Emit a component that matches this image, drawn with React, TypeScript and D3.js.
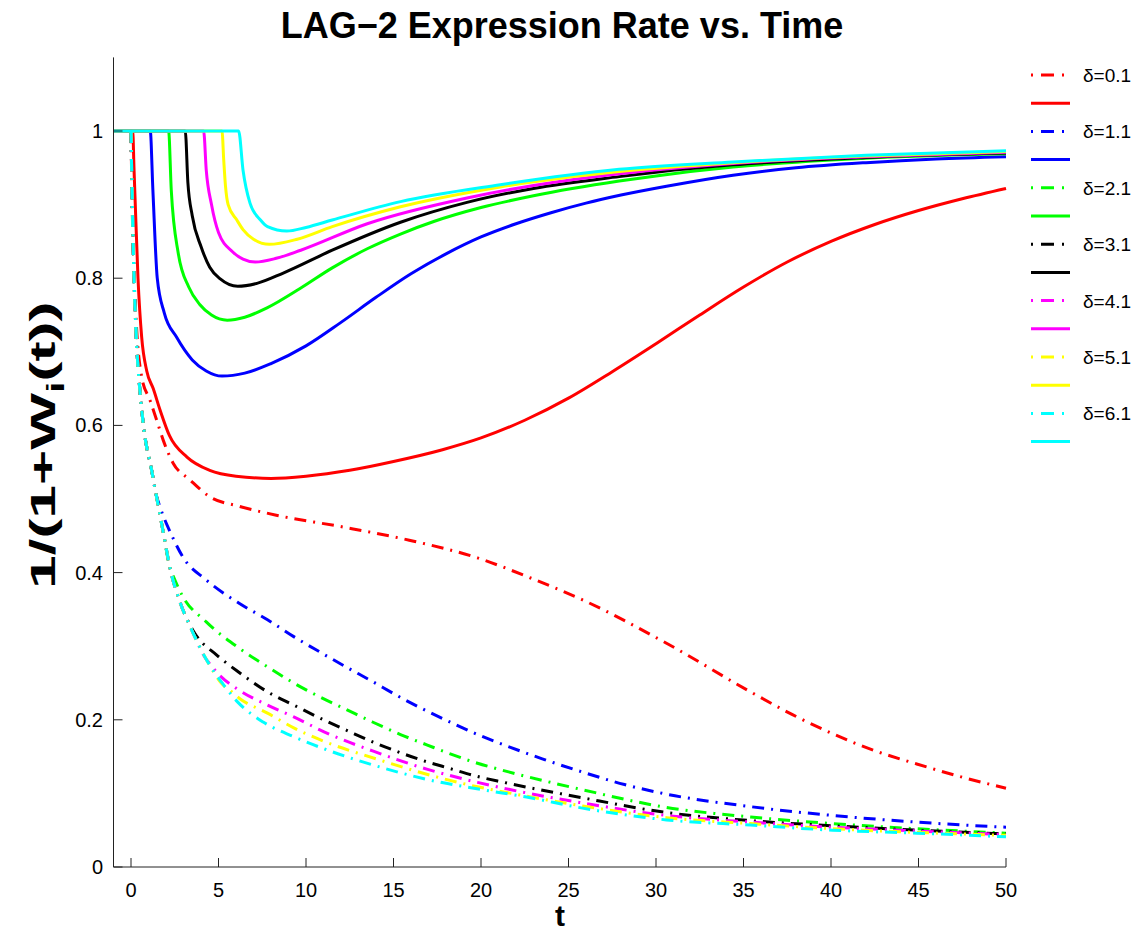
import React from "react";
import * as d3 from "d3";

const W = 1147;
const H = 934;

const xTicks = [0, 5, 10, 15, 20, 25, 30, 35, 40, 45, 50];
const yTicks = [0, 0.2, 0.4, 0.6, 0.8, 1];
const yTickLabels = ["0", "0.2", "0.4", "0.6", "0.8", "1"];
const deltaLabels = ["δ=0.1", "δ=1.1", "δ=2.1", "δ=3.1", "δ=4.1", "δ=5.1", "δ=6.1"];
const colors = ["#ff0000", "#0000ff", "#00ff00", "#000000", "#ff00ff", "#ffff00", "#00ffff"];

type P = [number, number];

// solid curves: 1/(1+W_i(t)) for each delta
const solid01: P[] = [[-1,1],[0.1,1],[0.17,0.95],[0.23,0.91],[0.4,0.8],[0.61,0.72],[0.9,0.674],[1.27,0.65],[1.66,0.621],[2.2,0.586],[3.2,0.557],[4.5,0.539],[6,0.531],[8,0.528],[10,0.531],[12.5,0.539],[15,0.551],[17.8,0.567],[20,0.583],[22.5,0.607],[25,0.637],[27.5,0.673],[30,0.711],[32.5,0.75],[35,0.788],[37.5,0.822],[40,0.85],[42.5,0.873],[45,0.892],[47.5,0.908],[50,0.922]];
const solid11: P[] = [[-1,1],[1.1,1],[1.25,0.92],[1.5,0.8],[1.9,0.753],[2.6,0.72],[3.5,0.689],[4.3,0.674],[5.2,0.667],[6.5,0.671],[8,0.684],[10,0.708],[12,0.74],[14,0.774],[16,0.806],[18,0.833],[20,0.856],[22,0.874],[24,0.889],[26,0.902],[28,0.913],[30.6,0.925],[34.4,0.94],[38,0.95],[42,0.957],[46,0.962],[50,0.965]];
const solid21: P[] = [[-1,1],[2.15,1],[2.3,0.92],[2.7,0.834],[3.3,0.788],[3.94,0.764],[4.6,0.75],[5.5,0.743],[6.5,0.747],[7.8,0.76],[9.66,0.786],[11.5,0.814],[13.5,0.84],[15.4,0.86],[17.3,0.877],[20,0.896],[23,0.912],[27.9,0.932],[30,0.939],[34.4,0.951],[42,0.963],[50,0.969]];
const solid31: P[] = [[-1,1],[3.1,1],[3.25,0.93],[3.5,0.885],[4.0,0.843],[4.5,0.815],[5.1,0.799],[6.1,0.789],[7.2,0.793],[8.7,0.807],[11.5,0.838],[15.4,0.876],[19.2,0.903],[23,0.922],[27.9,0.938],[30,0.944],[34.4,0.954],[42,0.964],[50,0.97]];
const solid41: P[] = [[-1,1],[4.15,1],[4.3,0.947],[4.6,0.9],[5.0,0.862],[5.8,0.836],[6.4,0.826],[7.1,0.822],[8.3,0.827],[9.7,0.838],[13.5,0.874],[19.2,0.909],[23,0.926],[27.9,0.942],[34.4,0.956],[42,0.965],[50,0.971]];
const solid51: P[] = [[-1,1],[5.2,1],[5.3,0.96],[5.4,0.925],[5.55,0.9],[6.05,0.879],[6.4,0.866],[7.0,0.853],[7.9,0.846],[9.5,0.853],[11.5,0.87],[15.4,0.897],[21.1,0.924],[27.9,0.945],[34.4,0.957],[42,0.966],[50,0.972]];
const solid61: P[] = [[-1,1],[6.15,1],[6.4,0.947],[6.8,0.902],[7.4,0.879],[7.8,0.87],[8.9,0.864],[10,0.869],[11.5,0.879],[15.4,0.904],[21.1,0.927],[27.9,0.948],[34.4,0.958],[42,0.967],[50,0.973]];

// dashed curves: common early envelope, then each delta's own tail
const dashedEnvelope: P[] = [[0,1],[0.05,0.93],[0.15,0.82],[0.3,0.72],[0.5,0.65],[0.71,0.6],[1.18,0.539],[1.5,0.498],[1.85,0.454],[2.23,0.406],[2.8,0.36],[3.47,0.322],[4.33,0.281],[5.37,0.245],[6.1,0.224],[7.55,0.197],[9.3,0.177],[11.1,0.16],[14.2,0.136],[17.1,0.118],[20.1,0.105],[22.6,0.095],[25.8,0.08],[30.6,0.064],[35.4,0.057],[40.1,0.05],[44.9,0.046],[50,0.041]];
const dashed01: P[] = [[0,1],[0.05,0.92],[0.15,0.82],[0.3,0.74],[0.61,0.666],[1.09,0.634],[1.47,0.607],[1.84,0.58],[2.4,0.549],[3.37,0.526],[4.5,0.503],[6.2,0.49],[8.3,0.478],[12.1,0.462],[15.9,0.444],[19.8,0.42],[22.7,0.394],[25.8,0.363],[30.6,0.304],[35.4,0.238],[37.8,0.207],[40.1,0.181],[42.5,0.158],[44.9,0.14],[47.5,0.122],[50,0.107]];
const dashedTail11: P[] = [[1.45,0.505],[1.66,0.489],[2.32,0.451],[2.97,0.421],[4.3,0.39],[6.2,0.358],[7.8,0.336],[9.3,0.313],[10.8,0.292],[12.2,0.273],[13.8,0.252],[15.2,0.233],[16.9,0.212],[18.4,0.195],[19.9,0.179],[21.3,0.166],[23.5,0.147],[25.8,0.129],[28.2,0.112],[30.6,0.099],[35.4,0.082],[40.1,0.07],[44.9,0.061],[50,0.054]];
const dashedTail21: P[] = [[2.4,0.396],[2.9,0.37],[4.3,0.333],[6.2,0.297],[7.8,0.272],[9.3,0.25],[10.8,0.231],[12.3,0.214],[13.8,0.197],[15.4,0.18],[16.9,0.166],[18.2,0.154],[19.8,0.141],[21.3,0.131],[25.8,0.105],[30.6,0.081],[35.4,0.068],[40.1,0.059],[44.9,0.052],[50,0.046]];
const dashedTail31: P[] = [[3.3,0.332],[3.66,0.317],[4.9,0.288],[6.2,0.264],[7.8,0.238],[9.3,0.22],[11,0.2],[12.3,0.186],[13.8,0.17],[15.2,0.157],[16.9,0.143],[18.2,0.134],[19.8,0.123],[21.3,0.115],[25.8,0.094],[30.6,0.074],[35.4,0.063],[40.1,0.056],[44.9,0.05],[50,0.045]];
const dashedTail41: P[] = [[4.5,0.276],[5.0,0.262],[6.2,0.24],[7.8,0.22],[9.3,0.204],[11,0.184],[14,0.156],[16.9,0.133],[19.8,0.115],[21.3,0.107],[25.8,0.087],[30.6,0.07],[35.4,0.061],[40.1,0.054],[44.9,0.049],[50,0.044]];
const dashedTail51: P[] = [[5.5,0.243],[6.2,0.229],[7.8,0.209],[9.3,0.189],[11,0.171],[14,0.147],[16.9,0.126],[19.8,0.109],[21.3,0.102],[25.8,0.083],[30.6,0.067],[35.4,0.059],[40.1,0.052],[44.9,0.047],[50,0.043]];

function withEnvelope(tail: P[] | null): P[] {
  if (!tail) return dashedEnvelope;
  const t0 = tail[0][0];
  return dashedEnvelope.filter((p) => p[0] < t0).concat(tail);
}

const dashedSeries: P[][] = [
  dashed01,
  withEnvelope(dashedTail11),
  withEnvelope(dashedTail21),
  withEnvelope(dashedTail31),
  withEnvelope(dashedTail41),
  withEnvelope(dashedTail51),
  withEnvelope(null),
];
const solidSeries: P[][] = [solid01, solid11, solid21, solid31, solid41, solid51, solid61];

const FONT = "'Liberation Sans', Arial, Helvetica, sans-serif";

export default function App() {
  const x = d3.scaleLinear().domain([-1, 50]).range([113.5, 1006]);
  const y = d3.scaleLinear().domain([0, 1.1]).range([867, 57.4]);
  const line = d3
    .line<P>()
    .x((d) => x(d[0]))
    .y((d) => y(d[1]))
    .curve(d3.curveMonotoneX);

  const x0 = x.range()[0];
  const y0 = y.range()[0];
  const dash = "12,7,2,7";

  const legendX0 = 1031;
  const legendX1 = 1070;
  const legendY0 = 75;
  const legendStep = 28.2;

  return (
    <svg width={W} height={H} style={{ position: "absolute", left: 0, top: 0, background: "#fff" }} fontFamily={FONT}>
      <rect x={0} y={0} width={W} height={H} fill="#fff" />
      {/* curves */}
      {colors.map((c, i) => (
        <g key={i}>
          <path d={line(dashedSeries[i]) || ""} fill="none" stroke={c} strokeWidth={3} strokeDasharray={dash} />
          <path d={line(solidSeries[i]) || ""} fill="none" stroke={c} strokeWidth={3} />
        </g>
      ))}
      {/* axes */}
      <line x1={x0} x2={x(50)} y1={y0} y2={y0} stroke="#222" strokeWidth={1} />
      <line x1={x0} x2={x0} y1={y0} y2={y(1.1)} stroke="#222" strokeWidth={1} />
      {xTicks.map((t) => (
        <g key={"xt" + t}>
          <line x1={x(t)} x2={x(t)} y1={y0} y2={y0 - 9} stroke="#222" strokeWidth={1} />
          <text x={x(t)} y={897} textAnchor="middle" fontSize={20} fill="#000">
            {t}
          </text>
        </g>
      ))}
      {yTicks.map((v, i) => (
        <g key={"yt" + v}>
          <line x1={x0} x2={x0 + 9} y1={y(v)} y2={y(v)} stroke="#222" strokeWidth={1} />
          <text x={103} y={y(v) + 7} textAnchor="end" fontSize={20} fill="#000">
            {yTickLabels[i]}
          </text>
        </g>
      ))}
      {/* title and labels */}
      <text x={562} y={38} textAnchor="middle" fontSize={36} fontWeight="bold" fill="#000">
        LAG−2 Expression Rate vs. Time
      </text>
      <text x={560} y={926} textAnchor="middle" fontSize={30} fontWeight="bold" fill="#000">
        t
      </text>
      <text transform={`translate(55, 445) rotate(-90) scale(1.72, 1)`} textAnchor="middle" fontSize={35} fontWeight="bold" fill="#000">
        1/(1+W<tspan fontSize={24} dy={9}>i</tspan>
        <tspan dy={-9}>(t))</tspan>
      </text>
      {/* legend */}
      {colors.map((c, i) => {
        const yd = legendY0 + legendStep * (2 * i);
        const ys = legendY0 + legendStep * (2 * i + 1);
        return (
          <g key={"lg" + i}>
            <line x1={legendX0} x2={legendX1} y1={yd} y2={yd} stroke={c} strokeWidth={3} strokeDasharray="2,8,13,8,2,100" />
            <text x={1083} y={yd + 7} fontSize={19} fill="#000">
              {deltaLabels[i]}
            </text>
            <line x1={legendX0} x2={legendX1} y1={ys} y2={ys} stroke={c} strokeWidth={3} />
          </g>
        );
      })}
    </svg>
  );
}
